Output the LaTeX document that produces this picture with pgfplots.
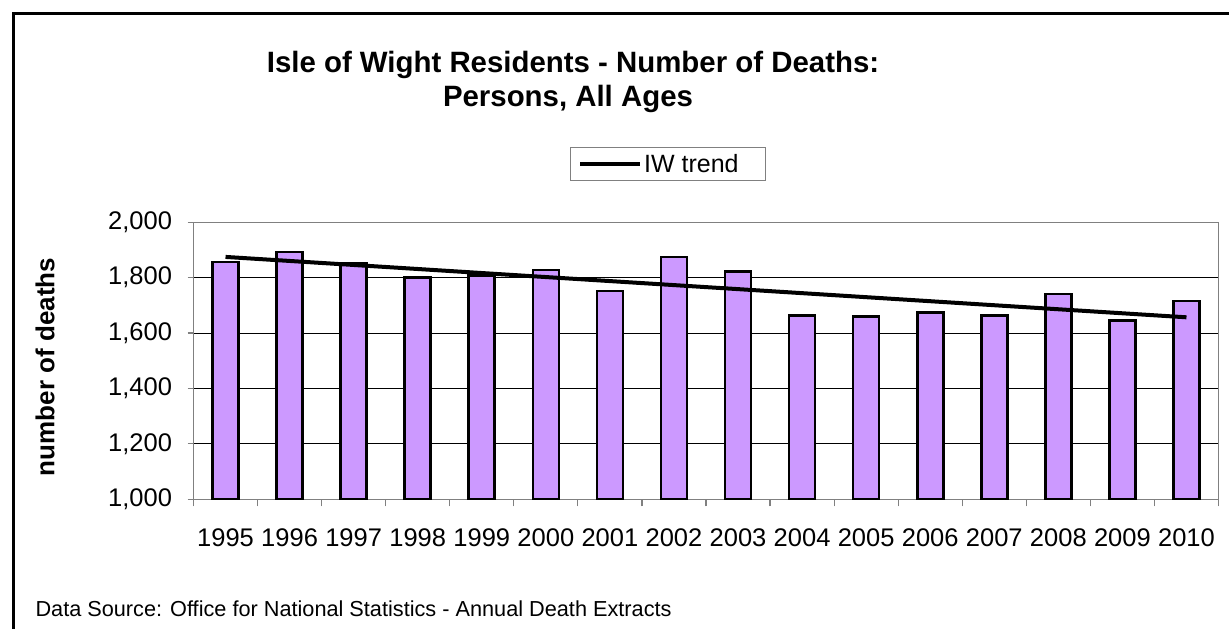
\documentclass[border=0pt]{standalone}
\usepackage{fontspec}
\setmainfont{Liberation Sans}
\usepackage{pgfplots}
\pgfplotsset{compat=1.18}
\usepackage{pgfplotstable}
\definecolor{barc}{HTML}{CC99FF}
\definecolor{axgray}{HTML}{808080}

\pgfplotstableread{
x year deaths
0 1995 1856
1 1996 1893
2 1997 1852
3 1998 1801
4 1999 1809
5 2000 1828
6 2001 1752
7 2002 1874
8 2003 1822
9 2004 1664
10 2005 1661
11 2006 1675
12 2007 1664
13 2008 1741
14 2009 1646
15 2010 1716
}\deathdata

\begin{document}
\begin{tikzpicture}[x=1pt,y=1pt]
\useasboundingbox (0,0) rectangle (1229,629);
\draw[line width=3pt] (13,-30) rectangle (1280,615);
\node[font={\fontsize{29.4}{34}\selectfont\bfseries}] at (573,564) {Isle of Wight Residents - Number of Deaths:};
\node[font={\fontsize{29.4}{34}\selectfont\bfseries}] at (568,530) {Persons, All Ages};
\node[rotate=90,font={\fontsize{26}{30}\selectfont\bfseries}] at (45,262) {number of deaths};
\node[anchor=west,font={\fontsize{21.7}{25}\selectfont}] at (32,20) {Data Source: Office for National Statistics - Annual Death Extracts};
\begin{axis}[
  at={(193.5pt,129.7pt)}, anchor=south west,
  scale only axis, width=1025pt, height=277pt,
  xmin=-0.5, xmax=15.5, ymin=1000, ymax=2000,
  xtick={0,...,15},
  xticklabels={1995,1996,1997,1998,1999,2000,2001,2002,2003,2004,2005,2006,2007,2008,2009,2010},
  xtick pos=bottom, ytick pos=left,
  major x tick style={draw=none},
  minor xtick={-0.5,0.5,...,15.5},
  minor x tick style={axgray, line width=1.2pt},
  minor tick length=7pt,
  ytick={1000,1200,...,2000},
  major tick length=6pt,
  tick align=outside,
  y tick style={axgray, line width=1.2pt},
  ymajorgrids, grid style={black, line width=1pt},
  axis line style={axgray, line width=1.5pt},
  tick label style={font={\fontsize{25.5}{29}\selectfont}},
  xticklabel style={yshift=-20pt},
  yticklabel style={xshift=-12pt},
  /pgf/number format/.cd, 1000 sep={,}, assume math mode=true,
  /pgfplots/.cd,
  legend style={at={(rel axis cs:0.367,1.271)}, anchor=north west, draw=axgray, line width=1pt,
    font={\fontsize{25}{28}\selectfont}, inner xsep=8pt, inner ysep=4.5pt},
  legend image code/.code={\draw[#1] (0pt,0pt) -- (60pt,0pt);},
]
\addplot[ybar, bar width=26pt, bar shift=0pt, fill=barc, draw=black, line width=2.6pt, forget plot] table[x=x,y=deaths] {\deathdata};
\addplot[black, line width=4pt] coordinates {(0,1875) (15,1657)};
\addlegendentry{\makebox[111pt][l]{IW trend}}
\end{axis}
\end{tikzpicture}
\end{document}
